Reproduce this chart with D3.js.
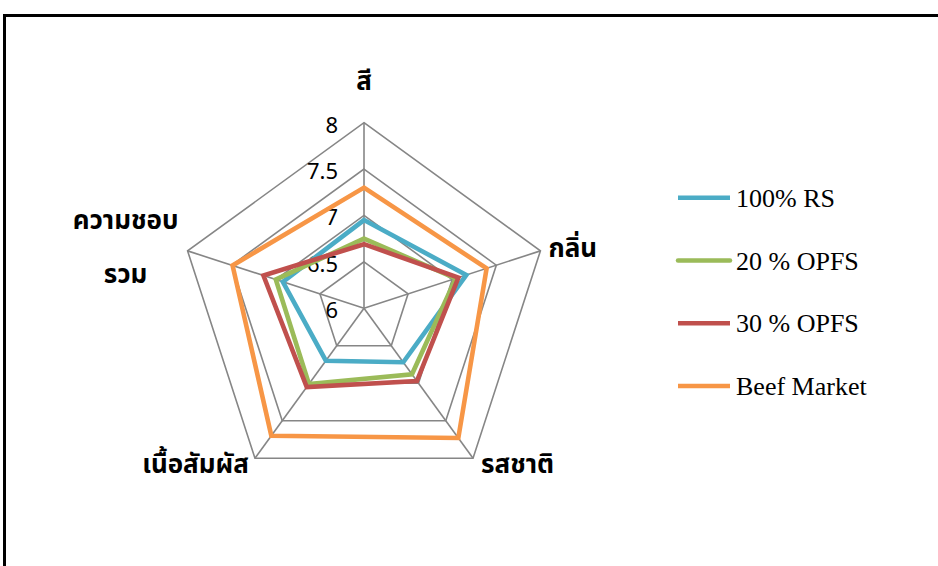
<!DOCTYPE html>
<html>
<head>
<meta charset="utf-8">
<script src="https://cdn.jsdelivr.net/npm/d3@7"></script>
<style>
    body { margin: 0; background: #fff; }
    .axisLabel { font-family: "Noto Sans Thai", "Noto Serif Thai", "Garuda", "Loma", "Noto Sans", sans-serif; font-weight: bold; font-size: 26px; fill: #000; }
    .tick { font-family: "Noto Sans", "DejaVu Sans", sans-serif; font-size: 22px; fill: #000; }
    .legend { font-family: "Liberation Serif", "Times New Roman", serif; font-size: 26px; fill: #000; }
    .grid { fill: none; stroke: #868686; stroke-width: 1.6; }
    .line { fill: none; stroke-width: 4.6; stroke-linejoin: miter; }
</style>
</head>
<body>
<div id="chart"></div>
<script>
// categories (clockwise from top)
var axes = ["สี", "กลิ่น", "รสชาติ", "เนื้อสัมผัส", "ความชอบรวม"];
var seriesNames = ["100% RS", "20 % OPFS", "30 % OPFS", "Beef Market"];
// series values
var rs100 = [6.95, 7.16, 6.72, 6.70, 6.92];
var opfs20 = [6.75, 7.04, 6.88, 7.01, 7.00];
var opfs30 = [6.69, 7.07, 6.97, 7.05, 7.14];
var beef = [7.30, 7.39, 7.73, 7.70, 7.49];
// tick labels
var ticks = [6, 6.5, 7, 7.5, 8];

var colors = ["#4BACC6", "#9BBB59", "#C0504D", "#F79646"];
var allSeries = [rs100, opfs20, opfs30, beef];

var width = 938, height = 566;
var cx = 364, cy = 308.2, radius = 185.5;

var svg = d3.select("#chart")
    .append("svg")
        .attr("width", width)
        .attr("height", height);

// outer frame (runs off right and bottom)
svg.append("rect")
    .attr("x", 4.5).attr("y", 15.5)
    .attr("width", 1000).attr("height", 700)
    .attr("fill", "none").attr("stroke", "#000").attr("stroke-width", 3);

var r = d3.scaleLinear().domain([6, 8]).range([0, radius]);
var angle = d3.scalePoint().domain(d3.range(axes.length + 1)).range([0, 2 * Math.PI]);

function point(i, v) {
    var a = angle(i);
    return [cx + r(v) * Math.sin(a), cy - r(v) * Math.cos(a)];
}

var radarLine = d3.line()
    .x(function(d) { return d[0]; })
    .y(function(d) { return d[1]; })
    .curve(d3.curveLinearClosed);

var g = svg.append("g");

// rings
ticks.slice(1).forEach(function(t) {
    g.append("path")
        .attr("class", "grid")
        .attr("d", radarLine(axes.map(function(a, i) { return point(i, t); })));
});
// spokes
axes.forEach(function(a, i) {
    var p = point(i, 8);
    g.append("line")
        .attr("class", "grid")
        .attr("x1", cx).attr("y1", cy)
        .attr("x2", p[0]).attr("y2", p[1]);
});

// tick labels along the top spoke
ticks.forEach(function(t) {
    g.append("text")
        .attr("class", "tick")
        .attr("x", cx - 26)
        .attr("y", point(0, t)[1] + 10)
        .attr("text-anchor", "end")
        .text(t);
});

// series
allSeries.forEach(function(s, k) {
    g.append("path")
        .attr("class", "line")
        .attr("stroke", colors[k])
        .attr("d", radarLine(s.map(function(v, i) { return point(i, v); })));
});

// category labels
var labelPos = [
    {dx: 0, dy: -33, anchor: "middle"},
    {dx: 8, dy: 6, anchor: "start"},
    {dx: 8, dy: 15, anchor: "start"},
    {dx: -6, dy: 15, anchor: "end"},
    {dx: -62, dy: -22, anchor: "middle"}
];
axes.forEach(function(a, i) {
    var p = point(i, 8);
    var lines = (i === 4) ? ["ความชอบ", "รวม"] : [a];
    var t = g.append("text")
        .attr("class", "axisLabel")
        .attr("text-anchor", labelPos[i].anchor);
    lines.forEach(function(l, j) {
        t.append("tspan")
            .attr("x", p[0] + labelPos[i].dx)
            .attr("y", p[1] + labelPos[i].dy + j * 54)
            .text(l);
    });
});

// legend
var legend = svg.append("g");
seriesNames.forEach(function(name, k) {
    var y = 197.7 + k * 62.8;
    legend.append("line")
        .attr("x1", 678).attr("x2", 730)
        .attr("y1", y).attr("y2", y)
        .attr("stroke", colors[k]).attr("stroke-width", 4.5)
        .attr("stroke-linecap", k === 1 ? "round" : "butt");
    legend.append("text")
        .attr("class", "legend")
        .attr("x", 736).attr("y", y + 9)
        .text(name);
});
</script>
</body>
</html>
